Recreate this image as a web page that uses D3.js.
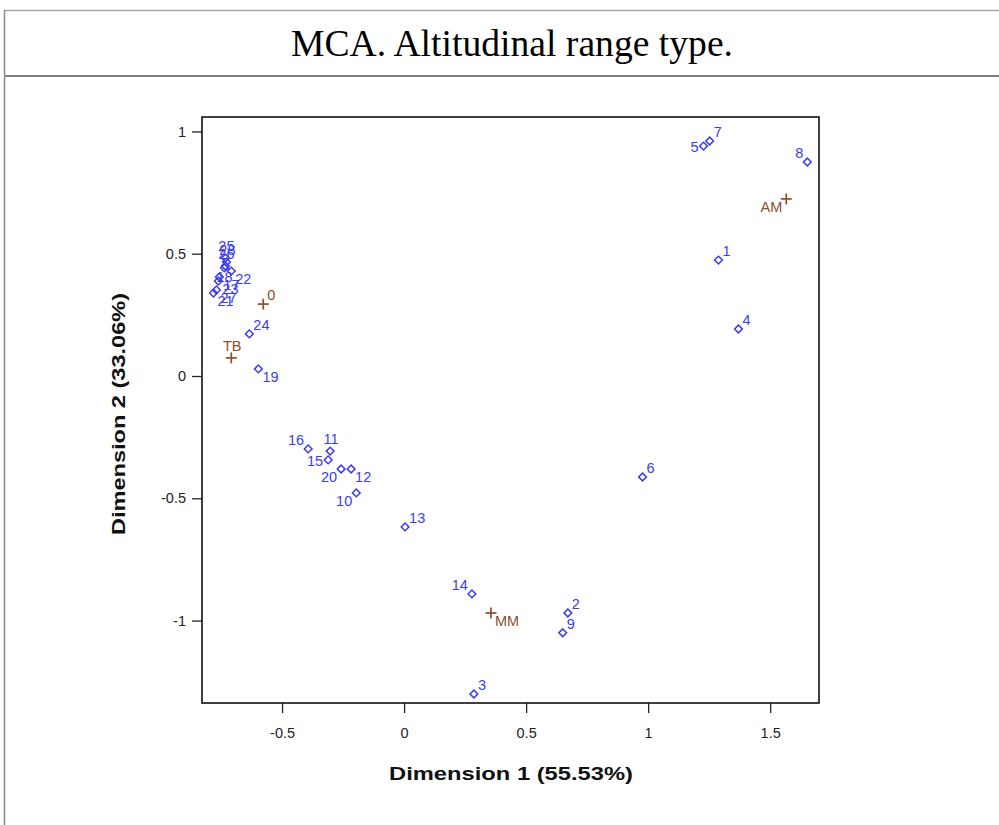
<!DOCTYPE html>
<html>
<head>
<meta charset="utf-8">
<script src="https://cdn.jsdelivr.net/npm/d3@7"></script>
<style>
  body { margin: 0; background: #fff; }
  svg { display: block; }
</style>
</head>
<body>
<div id="chart"></div>
<script>
// individuals (row points)
var rowNames = ["1","2","3","4","5","6","7","8","9","10","11","12","13","14","15","16",
  "17","18","19","20","21","22","23","24","25","26","27","28"];
var rowDim1 = [1.288,0.671,0.286,1.370,1.227,0.977,1.252,1.652,0.650,-0.196,-0.303,-0.217,0.004,0.278,-0.311,-0.393,
  -0.757,-0.736,-0.597,-0.258,-0.781,-0.708,-0.761,-0.634,-0.732,-0.732,-0.769,-0.728];
var rowDim2 = [0.474,-0.969,-1.300,0.192,0.940,-0.413,0.961,0.875,-1.050,-0.478,-0.307,-0.380,-0.617,-0.891,-0.343,-0.298,
  0.405,0.442,0.029,-0.380,0.339,0.429,0.388,0.172,0.482,0.450,0.352,0.466];
// where the label sits round the point
var rowLabelSide = ["ur","ur","ur","ur","l","ur","ur","ul","ur","ll","a","lr","ur","ul","l","ul",
  "lr","b","lr","ll","lr","lr","lr","ur","a","a","lr","a"];

// categories (altitudinal range type)
var catNames = ["0","TB","MM","AM"];
var catDim1 = [-0.577,-0.708,0.356,1.566];
var catDim2 = [0.294,0.074,-0.969,0.724];
var catLabelSide = ["ur","a","lr","ll"];

var xTicks = [-0.5, 0, 0.5, 1, 1.5];
var yTicks = [-1, -0.5, 0, 0.5, 1];
var xDomain = [-0.828, 1.70];
var yDomain = [-1.337, 1.059];

var W = 999, H = 825;
var plot = {left: 202, right: 819, top: 117, bottom: 703};
var blue = "#3b3bf0", brown = "#8c4f2b";

var sides = {
  ur: {anchor: "start", dx: 4, dy: -4},
  ul: {anchor: "end", dx: -4, dy: -4},
  lr: {anchor: "start", dx: 4, dy: 13},
  ll: {anchor: "end", dx: -4, dy: 13},
  l:  {anchor: "end", dx: -5, dy: 6},
  a:  {anchor: "middle", dx: 1, dy: -7},
  b:  {anchor: "middle", dx: 0, dy: 14}
};

var svg = d3.select("#chart").append("svg")
  .attr("width", W).attr("height", H);

// page frame: header cell + body cell
svg.append("line").attr("x1", 4.5).attr("x2", W).attr("y1", 10.5).attr("y2", 10.5)
  .attr("stroke", "#a8a8a8").attr("stroke-width", 1.5);
svg.append("line").attr("x1", 4.5).attr("x2", W).attr("y1", 76).attr("y2", 76)
  .attr("stroke", "#555").attr("stroke-width", 1.5);
svg.append("line").attr("x1", 4.5).attr("x2", 4.5).attr("y1", 10).attr("y2", H)
  .attr("stroke", "#8a8a8a").attr("stroke-width", 1.5);

svg.append("text")
  .attr("x", 512).attr("y", 56)
  .attr("text-anchor", "middle")
  .attr("font-family", "'Liberation Serif', 'Times New Roman', serif")
  .attr("font-size", 37.5)
  .attr("textLength", 442).attr("lengthAdjust", "spacingAndGlyphs")
  .text("MCA. Altitudinal range type.");

var x = d3.scaleLinear().domain(xDomain).range([plot.left, plot.right]);
var y = d3.scaleLinear().domain(yDomain).range([plot.bottom, plot.top]);

var fmt = function(d) { return String(d); };

var gx = svg.append("g")
  .attr("transform", "translate(0," + plot.bottom + ")")
  .call(d3.axisBottom(x).tickValues(xTicks).tickSize(10).tickPadding(15).tickFormat(fmt));
var gy = svg.append("g")
  .attr("transform", "translate(" + plot.left + ",0)")
  .call(d3.axisLeft(y).tickValues(yTicks).tickSize(10).tickPadding(6).tickFormat(fmt));

[gx, gy].forEach(function(g) {
  g.select(".domain").remove();
  g.selectAll(".tick line").attr("stroke", "#222").attr("stroke-width", 1.3);
  g.selectAll(".tick text")
    .attr("font-family", "'Liberation Sans', Arial, sans-serif")
    .attr("font-size", 14.5).attr("fill", "#222");
});

// plot box
svg.append("rect")
  .attr("x", plot.left).attr("y", plot.top)
  .attr("width", plot.right - plot.left).attr("height", plot.bottom - plot.top)
  .attr("fill", "none").attr("stroke", "#111").attr("stroke-width", 1.6);

svg.append("text")
  .attr("x", 511).attr("y", 780)
  .attr("text-anchor", "middle")
  .attr("font-family", "'Liberation Sans', Arial, sans-serif")
  .attr("font-size", 19).attr("font-weight", "bold").attr("fill", "#111")
  .attr("textLength", 244).attr("lengthAdjust", "spacingAndGlyphs")
  .text("Dimension 1 (55.53%)");

svg.append("text")
  .attr("transform", "translate(125,414) rotate(-90)")
  .attr("text-anchor", "middle")
  .attr("font-family", "'Liberation Sans', Arial, sans-serif")
  .attr("font-size", 19).attr("font-weight", "bold").attr("fill", "#111")
  .attr("textLength", 242).attr("lengthAdjust", "spacingAndGlyphs")
  .text("Dimension 2 (33.06%)");

var rows = rowNames.map(function(n, i) {
  return {name: n, d1: rowDim1[i], d2: rowDim2[i], side: rowLabelSide[i]};
});
var cats = catNames.map(function(n, i) {
  return {name: n, d1: catDim1[i], d2: catDim2[i], side: catLabelSide[i]};
});

var diamond = d3.symbol().type(d3.symbolSquare).size(30);

svg.append("g").selectAll("path")
  .data(rows).enter().append("path")
  .attr("d", diamond)
  .attr("transform", function(d) { return "translate(" + x(d.d1) + "," + y(d.d2) + ") rotate(45)"; })
  .attr("fill", "none").attr("stroke", blue).attr("stroke-width", 1.5);

svg.append("g").selectAll("g")
  .data(cats).enter().append("g")
  .attr("transform", function(d) { return "translate(" + x(d.d1) + "," + y(d.d2) + ")"; })
  .each(function() {
    var g = d3.select(this);
    g.append("line").attr("x1", -5.5).attr("x2", 5.5).attr("stroke", brown).attr("stroke-width", 1.7);
    g.append("line").attr("y1", -5.5).attr("y2", 5.5).attr("stroke", brown).attr("stroke-width", 1.7);
  });

function drawLabels(data, colour) {
  svg.append("g").selectAll("text")
    .data(data).enter().append("text")
    .attr("x", function(d) { return x(d.d1) + sides[d.side].dx; })
    .attr("y", function(d) { return y(d.d2) + sides[d.side].dy; })
    .attr("text-anchor", function(d) { return sides[d.side].anchor; })
    .attr("font-family", "'Liberation Sans', Arial, sans-serif")
    .attr("font-size", 14.5).attr("fill", colour)
    .text(function(d) { return d.name; });
}
drawLabels(rows, blue);
drawLabels(cats, brown);
</script>
</body>
</html>
